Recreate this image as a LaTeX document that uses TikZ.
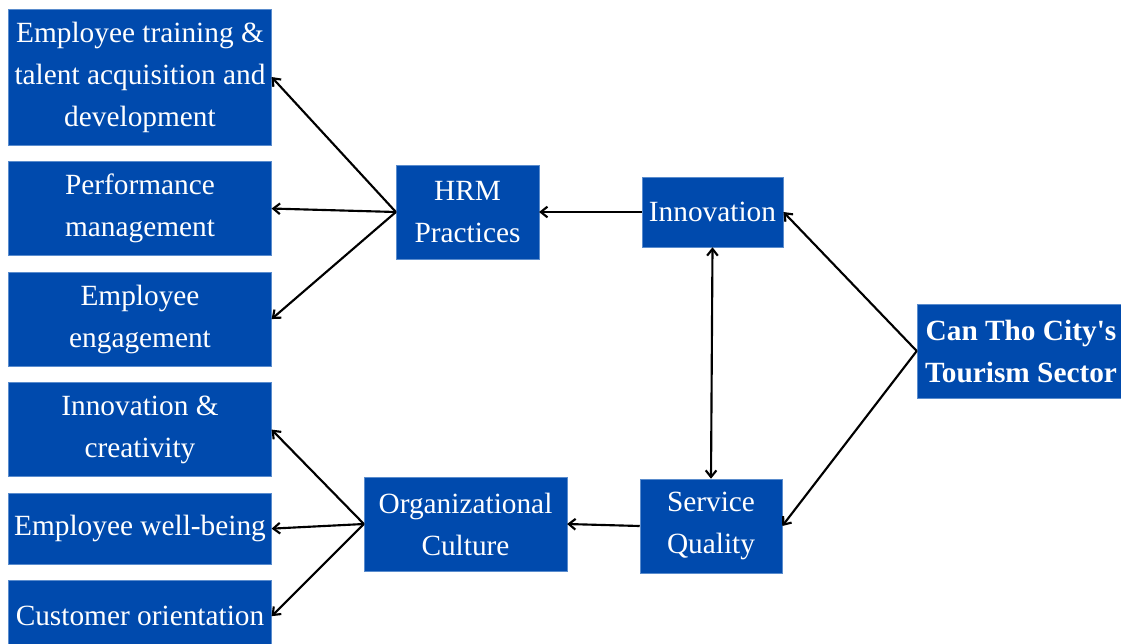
\documentclass[tikz,border=0pt]{standalone}
\usepackage{fontspec}
\setmainfont{Liberation Serif}
\usetikzlibrary{positioning,arrows.meta}
\definecolor{boxblue}{RGB}{0,74,173}
\definecolor{boxedge}{RGB}{90,140,205}

\begin{document}
\begin{tikzpicture}[x=0.75pt,y=-0.75pt,>={Straight Barb[length=5pt,width=8pt]},node distance=12pt,
  factor/.style={fill=boxblue,draw=boxedge,line width=0.4pt,text=white,align=center,inner sep=2pt,font=\fontsize{22}{31.5}\selectfont},
  leftbox/.style={factor,minimum width=197pt,minimum height=70.5pt},
  link/.style={->,line width=1.6pt}]
\useasboundingbox (0,0) rectangle (1121,643);
% left column
\node[leftbox,minimum height=102pt] (train) at (140,77) {Employee training \&\\talent acquisition and\\development};
\node[leftbox,below=of train] (perf) {Performance\\management};
\node[leftbox,below=of perf] (engage) {Employee\\engagement};
\node[leftbox,below=of engage] (creat) {Innovation \&\\creativity};
\node[leftbox,minimum height=53.25pt,below=of creat] (well) {Employee well-being};
\node[leftbox,minimum height=53.25pt,below=of well] (cust) {Customer orientation};
% middle and right
\node[factor,minimum width=107pt,minimum height=70.5pt] (hrm) at (467.5,212) {HRM\\Practices};
\node[factor,minimum width=152pt,minimum height=70.5pt] (org) at (465.5,524) {Organizational\\Culture};
\node[factor,minimum width=106pt,minimum height=52.5pt] (innov) at (712.5,212) {Innovation};
\node[factor,minimum width=106.5pt,minimum height=70.5pt] (sq) at (711,526) {Service\\Quality};
\node[factor,minimum width=156pt,minimum height=70.5pt,font=\fontsize{22}{31.5}\selectfont\bfseries] (city) at (1021,351) {Can Tho City\textquotesingle s\\Tourism Sector};
% connectors
\draw[link] (hrm.west) -- (train.east);
\draw[link] (hrm.west) -- (perf.east);
\draw[link] (hrm.west) -- (engage.east);
\draw[link] (innov.west) -- (hrm.east);
\draw[link] (city.west) -- (innov.east);
\draw[link] (city.west) -- (sq.east);
\draw[link,<->] (innov.south) -- (sq.north);
\draw[link] (sq.west) -- (org.east);
\draw[link] (org.west) -- (creat.east);
\draw[link] (org.west) -- (well.east);
\draw[link] (org.west) -- (cust.east);
\end{tikzpicture}
\end{document}
